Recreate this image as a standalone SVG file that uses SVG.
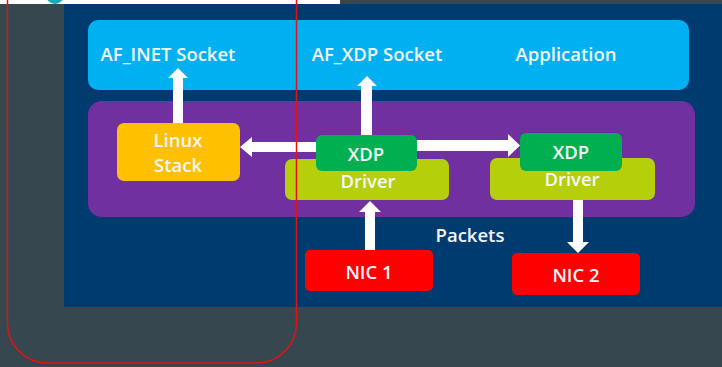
<svg xmlns="http://www.w3.org/2000/svg" width="722" height="367" viewBox="0 0 722 367">
<style>
text{font-family:"Open Sans","Noto Sans",sans-serif;font-weight:600;fill:#F4F6F8;font-size:18.5px;text-anchor:middle}
.arr{fill:#FFFFFF}
</style>
<rect x="0" y="0" width="722" height="367" fill="#37474F"/>
<rect x="0" y="0" width="340" height="4" fill="#FFFFFF"/>
<circle cx="55" cy="-5" r="9" fill="#1BA9B8"/>
<rect x="64" y="4" width="658" height="303" fill="#003B70"/>
<g id="application">
<rect x="88" y="20" width="601" height="70" rx="10" fill="#00B0F0"/>
<text x="168" y="61">AF_INET Socket</text>
<text x="377" y="61">AF_XDP Socket</text>
<text x="566" y="61">Application</text>
</g>
<g id="kernel">
<rect x="88" y="101" width="607" height="116" rx="14" fill="#7030A0"/>
</g>
<g id="linux-stack">
<rect x="117" y="123" width="123" height="58" rx="7" fill="#FFC000"/>
<text x="178" y="147">Linux</text>
<text x="178" y="172">Stack</text>
</g>
<g id="driver1">
<rect x="285" y="159" width="164" height="41" rx="7" fill="#B5CF0B"/>
<text x="368" y="188">Driver</text>
</g>
<g id="xdp1">
<rect x="316" y="135" width="101" height="36" rx="6" fill="#00B050"/>
<text x="366" y="161">XDP</text>
</g>
<g id="driver2">
<rect x="490" y="158" width="165" height="42" rx="7" fill="#B5CF0B"/>
<text x="572" y="186">Driver</text>
</g>
<g id="xdp2">
<rect x="520" y="133" width="102" height="38" rx="6" fill="#00B050"/>
<text x="571" y="159">XDP</text>
</g>
<g id="nic1">
<rect x="305" y="250" width="128" height="41" rx="5" fill="#FF0000"/>
<text x="369" y="279">NIC 1</text>
</g>
<g id="nic2">
<rect x="512" y="253" width="128" height="42" rx="5" fill="#FF0000"/>
<text x="576" y="282">NIC 2</text>
</g>
<g id="packets-label">
<text x="470" y="242">Packets</text>
</g>
<g id="connectors">
<polygon class="arr" points="173,123 173,78 168,78 178,68 188,78 183,78 183,123"/>
<polygon class="arr" points="361,135 361,86 357,86 367,76 377,86 372,86 372,135"/>
<polygon class="arr" points="316,142 252,142 252,137 240,147 252,157 252,152 316,152"/>
<polygon class="arr" points="417,140 508,140 508,134 520,145.5 508,157 508,151 417,151"/>
<polygon class="arr" points="365,250 365,212 359,212 370,201 381,212 375,212 375,250"/>
<polygon class="arr" points="573,200 573,242 567,242 578,253 589,242 583,242 583,200"/>
</g>
<rect x="7.5" y="-40" width="289" height="403" rx="40" fill="none" stroke="#E41212" stroke-width="1.5"/>
</svg>
